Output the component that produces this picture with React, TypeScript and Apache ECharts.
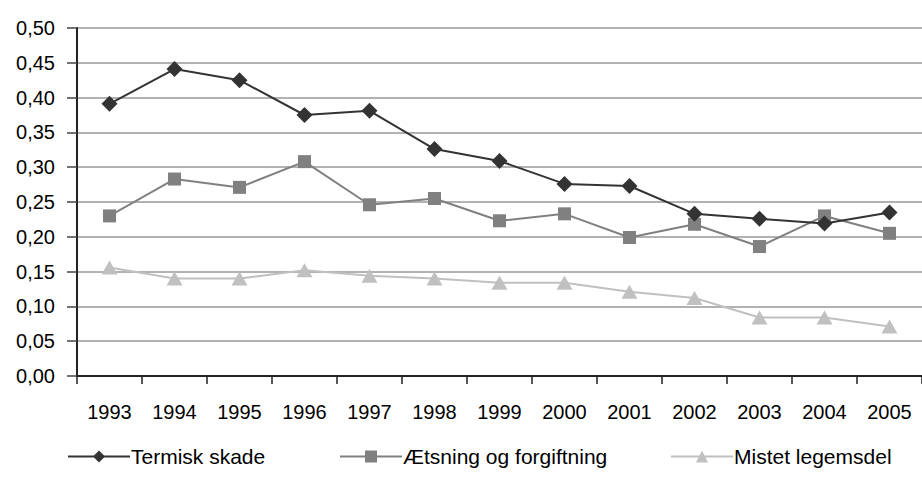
import React, { useEffect, useRef } from "react";
import * as echarts from "echarts";

const years = ["1993", "1994", "1995", "1996", "1997", "1998", "1999", "2000", "2001", "2002", "2003", "2004", "2005"];
const termiskSkade = [0.391, 0.441, 0.425, 0.375, 0.381, 0.326, 0.309, 0.276, 0.273, 0.233, 0.226, 0.219, 0.235];
const aetsning = [0.23, 0.283, 0.271, 0.308, 0.246, 0.255, 0.223, 0.233, 0.199, 0.218, 0.186, 0.23, 0.205];
const mistetLegemsdel = [0.156, 0.14, 0.14, 0.152, 0.144, 0.14, 0.134, 0.134, 0.121, 0.112, 0.084, 0.084, 0.071];

const FONT = "'Liberation Sans', Arial, sans-serif";

export default function App() {
  const ref = useRef<HTMLDivElement>(null);
  useEffect(() => {
    if (!ref.current) return;
    const chart = echarts.init(ref.current, undefined, { renderer: "svg" });
    const legendCommon = {
      top: 441,
      itemWidth: 62,
      itemHeight: 15,
      itemGap: 0,
      textStyle: { fontFamily: FONT, fontSize: 21, color: "#000", padding: [0, 0, 0, -4] },
      selectedMode: false as const,
    };
    chart.setOption({
      animation: false,
      backgroundColor: "#fff",
      textStyle: { fontFamily: FONT },
      grid: { left: 77, top: 28, bottom: 120, right: -7, containLabel: false },
      legend: [
        { ...legendCommon, left: 62, data: ["Termisk skade"] },
        { ...legendCommon, left: 334, data: ["Ætsning og forgiftning"] },
        { ...legendCommon, left: 665, data: ["Mistet legemsdel"] },
      ],
      xAxis: {
        type: "category",
        data: years,
        boundaryGap: true,
        axisLine: { lineStyle: { color: "#222", width: 2 } },
        axisTick: { show: true, length: 8, lineStyle: { color: "#222", width: 1.5 } },
        axisLabel: { fontSize: 20, color: "#000", margin: 26, fontFamily: FONT },
      },
      yAxis: {
        type: "value",
        min: 0,
        max: 0.5,
        interval: 0.05,
        axisLine: { show: true, lineStyle: { color: "#222", width: 2 } },
        axisTick: { show: true, length: 10, lineStyle: { color: "#444", width: 1.5 } },
        axisLabel: {
          fontSize: 20,
          color: "#000",
          margin: 22,
          fontFamily: FONT,
          formatter: (v: number) => v.toFixed(2).replace(".", ","),
        },
        splitLine: { show: true, lineStyle: { color: "#999", width: 1.5 } },
      },
      series: [
        {
          name: "Termisk skade",
          type: "line",
          data: termiskSkade,
          symbol: "diamond",
          symbolSize: [16, 16],
          lineStyle: { color: "#333", width: 2 },
          itemStyle: { color: "#333" },
          z: 4,
        },
        {
          name: "Ætsning og forgiftning",
          type: "line",
          data: aetsning,
          symbol: "rect",
          symbolSize: 13,
          lineStyle: { color: "#808080", width: 2 },
          itemStyle: { color: "#808080" },
          z: 3,
        },
        {
          name: "Mistet legemsdel",
          type: "line",
          data: mistetLegemsdel,
          symbol: "triangle",
          symbolSize: [16, 14],
          lineStyle: { color: "#c0c0c0", width: 2 },
          itemStyle: { color: "#c0c0c0" },
          z: 2,
        },
      ],
    });
    return () => chart.dispose();
  }, []);
  return (
    <div
      ref={ref}
      style={{ position: "fixed", left: 0, top: 0, width: 922, height: 496, background: "#fff" }}
    />
  );
}
